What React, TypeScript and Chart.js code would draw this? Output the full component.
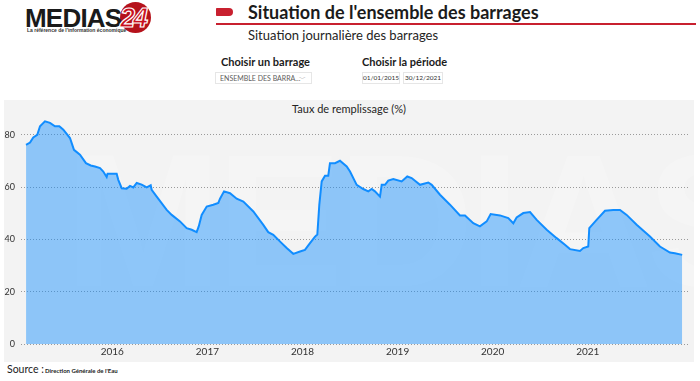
import React, { useEffect, useRef } from "react";
import { Chart, registerables } from "chart.js";

Chart.register(...registerables);

// Decimal year of each reading
const yearPos: number[] = [
  2015.093, 2015.135, 2015.169, 2015.211, 2015.24, 2015.292, 2015.345, 2015.397, 2015.443, 2015.485,
  2015.555, 2015.597, 2015.66, 2015.723, 2015.773, 2015.818, 2015.871, 2015.905, 2015.941, 2015.95,
  2016.046, 2016.063, 2016.099, 2016.151, 2016.186, 2016.221, 2016.257, 2016.309, 2016.362, 2016.404,
  2016.414, 2016.467, 2016.572, 2016.625, 2016.712, 2016.782, 2016.835, 2016.887, 2016.909, 2016.94,
  2016.993, 2017.062, 2017.115, 2017.133, 2017.175, 2017.238, 2017.308, 2017.378, 2017.483, 2017.588,
  2017.64, 2017.693, 2017.781, 2017.834, 2017.903, 2017.974, 2018.026, 2018.079, 2018.132, 2018.156,
  2018.177, 2018.202, 2018.237, 2018.271, 2018.289, 2018.342, 2018.394, 2018.465, 2018.5, 2018.57,
  2018.639, 2018.692, 2018.728, 2018.762, 2018.815, 2018.833, 2018.868, 2018.902, 2018.955, 2019.043,
  2019.102, 2019.148, 2019.236, 2019.323, 2019.359, 2019.446, 2019.551, 2019.656, 2019.709, 2019.796,
  2019.866, 2019.937, 2019.979, 2020.077, 2020.164, 2020.217, 2020.252, 2020.322, 2020.393, 2020.463,
  2020.568, 2020.673, 2020.76, 2020.813, 2020.918, 2020.953, 2021.005, 2021.016, 2021.093, 2021.181,
  2021.268, 2021.339, 2021.409, 2021.514, 2021.654, 2021.759, 2021.864, 2021.916, 2021.993,
];

// Taux de remplissage (%)
const fillRate: number[] = [
  76.2, 77.1, 79, 80, 83.3, 85.2, 84.6, 83.3, 83.3, 82,
  78.8, 74.3, 72.4, 69.2, 68.3, 67.9, 67.3, 66, 63.9, 65.1,
  65.1, 62.8, 59.6, 59.4, 60.5, 59.9, 61.6, 61, 59.9, 60.7,
  59, 56.4, 51.3, 49.4, 46.9, 44.3, 43.7, 42.8, 45, 49.4,
  52.6, 53.3, 54, 55.6, 58.4, 57.7, 55.6, 54.5, 50.7, 45.6,
  42.8, 41.8, 38.6, 36.7, 34.5, 35.4, 36, 38.6, 41.1, 41.9,
  53.3, 62.2, 64.4, 64.4, 69.2, 69.2, 70.1, 67.9, 66, 60.9,
  59.3, 58.4, 59.3, 58.4, 56.4, 60.9, 60.9, 62.5, 63.1, 62.2,
  64.1, 63.5, 60.9, 61.8, 60.9, 57.1, 53.3, 49.2, 49.2, 46.2,
  45, 46.9, 49.7, 49.2, 48.2, 46.2, 48.4, 50.1, 50.5, 47.5,
  43.7, 40.5, 38, 36.3, 35.6, 36.7, 37.3, 44.3, 47.5, 51,
  51.3, 51.3, 49.4, 45.6, 41.1, 37.3, 35, 34.7, 34.1,
];

const yearTicks: number[] = [2016, 2017, 2018, 2019, 2020, 2021];
const valueTicks: number[] = [0, 20, 40, 60, 80];

const UI_FONT = "Lato, 'Open Sans', sans-serif";

export default function App() {
  const canvasRef = useRef<HTMLCanvasElement | null>(null);

  useEffect(() => {
    document.body.style.margin = "0";
    const canvas = canvasRef.current;
    if (!canvas) return;
    const points = yearPos.map((x, i) => ({ x, y: fillRate[i] }));
    const chart = new Chart(canvas, {
      type: "line",
      data: {
        datasets: [
          {
            label: "Taux de remplissage (%)",
            data: points,
            borderColor: "#118DFF",
            backgroundColor: "rgba(17,141,255,0.45)",
            borderWidth: 2,
            fill: "origin",
            pointRadius: 0,
            tension: 0,
          },
        ],
      },
      options: {
        animation: false,
        responsive: false,
        maintainAspectRatio: false,
        layout: { padding: { top: 14, right: 6, left: 0, bottom: 0 } },
        plugins: {
          legend: { display: false },
          tooltip: { enabled: false },
          title: { display: false },
        },
        scales: {
          x: {
            type: "linear",
            min: 2015.04,
            max: 2022.054,
            grid: { display: false, drawTicks: false },
            border: { display: false },
            afterBuildTicks: (s: any) => {
              s.ticks = yearTicks.map((v) => ({ value: v }));
            },
            afterFit: (s: any) => {
              s.height = 18;
            },
            ticks: {
              autoSkip: false,
              maxRotation: 0,
              padding: 2,
              color: "#333333",
              font: { family: UI_FONT, size: 10 },
              callback: (v: any) => String(v),
            },
          },
          y: {
            type: "linear",
            min: 0,
            max: 88,
            afterBuildTicks: (s: any) => {
              s.ticks = valueTicks.map((v) => ({ value: v }));
            },
            afterFit: (s: any) => {
              s.width = 17;
            },
            grid: { color: "#9a9a9a", lineWidth: 1, drawTicks: false },
            border: { display: false, dash: [1, 2] },
            ticks: {
              padding: 6,
              color: "#333333",
              font: { family: UI_FONT, size: 9 },
            },
          },
        },
      },
    });
    return () => chart.destroy();
  }, []);

  return (
    <div style={{ position: "relative", width: 700, height: 381, background: "#ffffff", overflow: "hidden", fontFamily: UI_FONT }}>
      {/* Logo */}
      <div style={{ position: "absolute", left: 120, top: 2, width: 31, height: 31, borderRadius: "50%", background: "#b5121b" }} />
      <div style={{ position: "absolute", left: 25, top: 3, fontFamily: "'Liberation Sans', Arial, sans-serif", fontWeight: 700, fontSize: 26, letterSpacing: -0.8, color: "#1a1a1a", lineHeight: "30px" }}>MEDIAS</div>
      <div style={{ position: "absolute", left: 120, top: 3, fontFamily: "'Liberation Sans', Arial, sans-serif", fontWeight: 700, fontStyle: "italic", fontSize: 27, letterSpacing: -2, color: "#c8101e", WebkitTextStroke: "1.2px #ffffff", lineHeight: "30px" }}>24</div>
      <div style={{ position: "absolute", left: 27, top: 27, fontFamily: "'Liberation Sans', Arial, sans-serif", fontWeight: 700, fontSize: 5, color: "#333", whiteSpace: "nowrap" }}>La référence de l'information économique</div>

      {/* Title */}
      <div style={{ position: "absolute", left: 216, top: 8, width: 17, height: 8, background: "#c8202f", borderRadius: "1px 5px 5px 1px" }} />
      <div style={{ position: "absolute", left: 248, top: 1, fontWeight: 700, fontSize: 18, color: "#1b1b1b", whiteSpace: "nowrap", lineHeight: "22px" }}>Situation de l'ensemble des barrages</div>
      <div style={{ position: "absolute", left: 216, top: 23, width: 480, height: 1.5, background: "#c8202f" }} />
      <div style={{ position: "absolute", left: 248, top: 27, fontSize: 13, color: "#252423", whiteSpace: "nowrap", lineHeight: "16px" }}>Situation journalière des barrages</div>

      {/* Slicers */}
      <div style={{ position: "absolute", left: 221, top: 55, fontWeight: 700, fontSize: 11, color: "#1b1b1b", whiteSpace: "nowrap" }}>Choisir un barrage</div>
      <div style={{ position: "absolute", left: 215, top: 72, width: 97, height: 12, border: "1px solid #e6e6e6", boxSizing: "border-box", fontSize: 7, color: "#605e5c", lineHeight: "10px", paddingLeft: 4, whiteSpace: "nowrap" }}>
        ENSEMBLE DES BARRA...
        <span style={{ position: "absolute", right: 5, top: 0, fontSize: 7, color: "#888" }}>﹀</span>
      </div>
      <div style={{ position: "absolute", left: 362, top: 55, fontWeight: 700, fontSize: 11, color: "#1b1b1b", whiteSpace: "nowrap" }}>Choisir la période</div>
      <div style={{ position: "absolute", left: 362, top: 72, width: 38, height: 12, border: "1px solid #e6e6e6", boxSizing: "border-box", fontSize: 6.5, color: "#333", lineHeight: "10px", textAlign: "center" }}>01/01/2015</div>
      <div style={{ position: "absolute", left: 403, top: 72, width: 40, height: 12, border: "1px solid #e6e6e6", boxSizing: "border-box", fontSize: 6.5, color: "#333", lineHeight: "10px", textAlign: "center" }}>30/12/2021</div>

      {/* Chart panel */}
      <div style={{ position: "absolute", left: 4, top: 100, width: 690, height: 262, background: "#f3f3f3", overflow: "hidden" }}>
        <div style={{ position: "absolute", left: 60, top: 20, fontFamily: "'Liberation Sans', Arial, sans-serif", fontWeight: 700, fontSize: 190, letterSpacing: -6, color: "rgba(255,255,255,0.18)", whiteSpace: "nowrap", lineHeight: "200px" }}>MEDIAS24</div>
        <div style={{ position: "absolute", left: 0, top: 2, width: 690, textAlign: "center", fontSize: 11, color: "#252423" }}>Taux de remplissage (%)</div>
        <canvas ref={canvasRef} width={690} height={262} style={{ position: "absolute", left: 0, top: 0, width: 690, height: 262 }} />
      </div>

      {/* Source */}
      <div style={{ position: "absolute", left: 7, top: 363, fontSize: 10.5, color: "#1b1b1b", whiteSpace: "nowrap" }}>Source :</div>
      <div style={{ position: "absolute", left: 45, top: 367, fontWeight: 700, fontSize: 6, color: "#1b1b1b", whiteSpace: "nowrap" }}>Direction Générale de l'Eau</div>
    </div>
  );
}
